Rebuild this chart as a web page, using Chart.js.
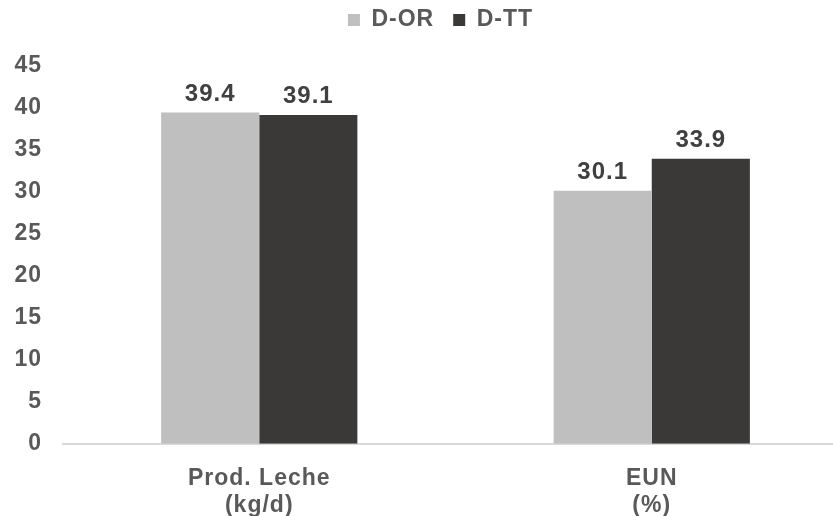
<!DOCTYPE html>
<html>
<head>
<meta charset="utf-8">
<script src="https://cdn.jsdelivr.net/npm/chart.js@4"></script>
<style>
  html, body { margin: 0; padding: 0; background: #ffffff; overflow: hidden; }
  #wrap { width: 848px; height: 516px; position: relative; }
</style>
</head>
<body>
<div id="wrap"><canvas id="c" width="848" height="516"></canvas></div>
<script>
const categories = [["Prod. Leche", "(kg/d)"], ["EUN", "(%)"]];
const seriesNames = ["D-OR", "D-TT"];
const valuesOR = [39.4, 30.1];
const valuesTT = [39.1, 33.9];
const yTicks = [0, 5, 10, 15, 20, 25, 30, 35, 40, 45];

const FONT = "'Liberation Sans', Arial, sans-serif";

// slightly wider letter spacing for every text on the canvas
const spacing = {
  id: 'spacing',
  beforeLayout(chart) { chart.ctx.letterSpacing = '1px'; },
  beforeDraw(chart) { chart.ctx.letterSpacing = '1px'; }
};

// writes each bar's value just above its top
const valueLabels = {
  id: 'valueLabels',
  afterDatasetsDraw(chart) {
    const ctx = chart.ctx;
    ctx.save();
    ctx.font = "bold 24px " + FONT;
    ctx.fillStyle = "#404040";
    ctx.textAlign = "center";
    ctx.textBaseline = "alphabetic";
    chart.data.datasets.forEach((ds, di) => {
      chart.getDatasetMeta(di).data.forEach((bar, i) => {
        ctx.fillText(ds.data[i].toFixed(1), bar.x, bar.y - 12);
      });
    });
    ctx.restore();
  }
};

// nudges the legend a little to the right of the canvas centre
const legendShift = {
  id: 'legendShift',
  afterLayout(chart) {
    const lg = chart.legend;
    if (lg) { lg.left += 10; lg.right += 10; }
  }
};

new Chart(document.getElementById('c'), {
  type: 'bar',
  data: {
    labels: categories,
    datasets: [
      { label: seriesNames[0], data: valuesOR, backgroundColor: '#BFBFBF' },
      { label: seriesNames[1], data: valuesTT, backgroundColor: '#3A3937' }
    ]
  },
  options: {
    responsive: false,
    animation: false,
    layout: { padding: { left: 13, right: 0, top: -10.5, bottom: -24 } },
    datasets: { bar: { categoryPercentage: 0.5, barPercentage: 1.0 } },
    plugins: {
      tooltip: { enabled: false },
      legend: {
        position: 'top',
        labels: {
          font: { family: FONT, size: 23, weight: 'bold' },
          color: '#595959',
          boxWidth: 12,
          boxHeight: 12,
          padding: 19
        }
      },
      // empty spacer between the legend and the plot
      title: {
        display: true,
        text: ' ',
        weight: 500,
        padding: 0,
        font: { size: 10, lineHeight: 2.4 }
      }
    },
    scales: {
      x: {
        grid: { display: false, drawTicks: false },
        border: { display: true, color: '#D9D9D9', width: 2 },
        ticks: {
          font: { family: FONT, size: 23, weight: 'bold', lineHeight: 1.18 },
          color: '#595959',
          padding: 21,
          maxRotation: 0
        }
      },
      y: {
        min: 0,
        max: 45,
        afterBuildTicks(scale) { scale.ticks = yTicks.map(v => ({ value: v })); },
        afterFit(scale) { scale.width = 50; },
        grid: { display: false, drawTicks: false },
        border: { display: false },
        ticks: {
          font: { family: FONT, size: 23, weight: 'bold' },
          color: '#595959',
          padding: 21
        }
      }
    }
  },
  plugins: [spacing, valueLabels, legendShift]
});
</script>
</body>
</html>
